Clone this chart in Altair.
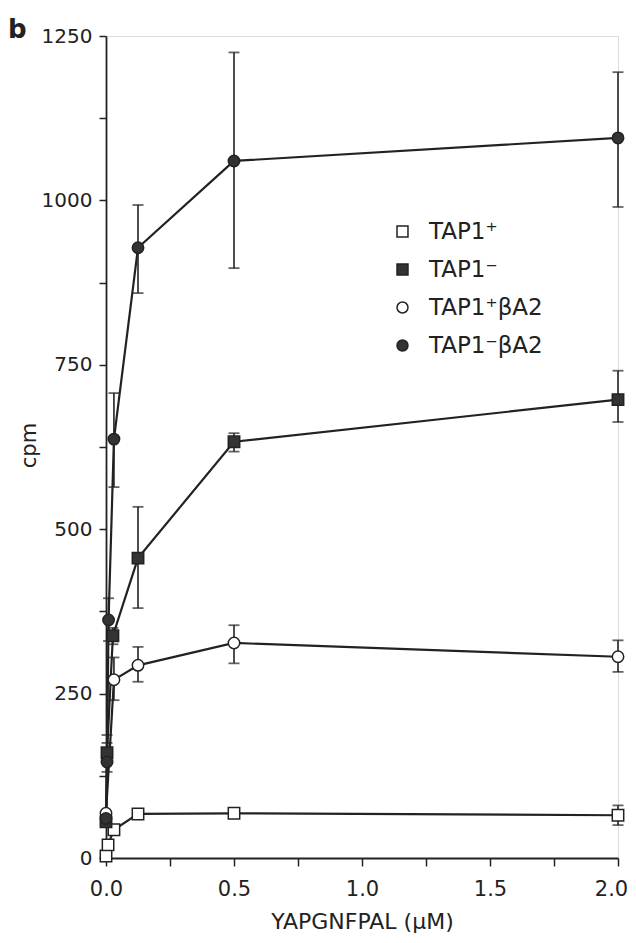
import altair as alt
import pandas as pd

series_names = ["TAP1⁺", "TAP1⁻", "TAP1⁺βA2", "TAP1⁻βA2"]

# TAP1+ (open square)
x_tap1p = [0, 0.008, 0.031, 0.125, 0.5, 2.0]
y_tap1p = [3, 20, 43, 67, 68, 65]
lo_tap1p = [None, None, None, None, None, 50]
hi_tap1p = [None, None, None, None, None, 80]

# TAP1- (filled square)
x_tap1m = [0, 0.004, 0.027, 0.125, 0.5, 2.0]
y_tap1m = [55, 160, 338, 456, 633, 697]
lo_tap1m = [None, 145, 325, 380, 618, 663]
hi_tap1m = [None, 175, 350, 534, 646, 741]

# TAP1+ bA2 (open circle)
x_tap1pb = [0, 0.031, 0.125, 0.5, 2.0]
y_tap1pb = [68, 271, 293, 327, 306]
lo_tap1pb = [None, 240, 268, 296, 283]
hi_tap1pb = [None, 305, 321, 354, 331]

# TAP1- bA2 (filled circle)
x_tap1mb = [0, 0.004, 0.01, 0.031, 0.125, 0.5, 2.0]
y_tap1mb = [60, 146, 362, 637, 928, 1060, 1095]
lo_tap1mb = [None, 131, 330, 564, 859, 897, 990]
hi_tap1mb = [None, 187, 395, 707, 993, 1225, 1195]

panel_label = ["b"]

rows = []
for name, xs, ys, los, his in [
    (series_names[0], x_tap1p, y_tap1p, lo_tap1p, hi_tap1p),
    (series_names[1], x_tap1m, y_tap1m, lo_tap1m, hi_tap1m),
    (series_names[2], x_tap1pb, y_tap1pb, lo_tap1pb, hi_tap1pb),
    (series_names[3], x_tap1mb, y_tap1mb, lo_tap1mb, hi_tap1mb),
]:
    for xv, yv, lv, hv in zip(xs, ys, los, his):
        rows.append({"series": name, "x": xv, "y": yv, "lo": lv, "hi": hv})
df = pd.DataFrame(rows)
err = df.dropna(subset=["lo", "hi"])

FONT = "DejaVu Sans"
INK = "#222222"

xscale = alt.Scale(domain=[0, 2.0], nice=False, zero=False)
yscale = alt.Scale(domain=[0, 1250], nice=False)

xaxis = alt.Axis(
    title="YAPGNFPAL (μM)",
    values=[0, 0.25, 0.5, 0.75, 1.0, 1.25, 1.5, 1.75, 2.0],
    labelExpr="datum.value % 0.5 == 0 ? format(datum.value, '.1f') : ''",
    labelFlush=False, labelOverlap=False,
    labelOffset={"condition": {"test": "datum.value == 2", "value": -7}, "value": 0},
    grid=False, tickSize=8, tickWidth=1.5, tickColor=INK,
    domainColor=INK, domainWidth=1.8,
    labelFont=FONT, labelFontSize=21, labelColor=INK, labelPadding=12,
    titleFont=FONT, titleFontSize=22, titleFontWeight="normal", titleColor=INK,
    titleY=70, titleBaseline="alphabetic",
)
yaxis = alt.Axis(
    title="cpm",
    values=[0, 125, 250, 375, 500, 625, 750, 875, 1000, 1125, 1250],
    labelExpr="datum.value % 250 == 0 ? format(datum.value, 'd') : ''",
    labelFlush=False, labelOverlap=False,
    grid=False, tickSize=7, tickWidth=1.5, tickColor=INK,
    domainColor=INK, domainWidth=1.8,
    labelFont=FONT, labelFontSize=20, labelColor=INK, labelPadding=7,
    titleFont=FONT, titleFontSize=21, titleFontWeight="normal", titleColor=INK,
    titleX=-77, titleY=409, titleBaseline="middle", titleAlign="center",
)

base = alt.Chart(df)

lines = base.mark_line(color=INK, strokeWidth=2.2).encode(
    x=alt.X("x:Q", scale=xscale, axis=xaxis),
    y=alt.Y("y:Q", scale=yscale, axis=yaxis),
    detail="series:N",
)

bars = alt.Chart(err).mark_rule(color=INK, strokeWidth=1.6).encode(
    x="x:Q", y="lo:Q", y2="hi:Q"
)
caps_lo = alt.Chart(err).mark_tick(orient="horizontal", color=INK, size=11, thickness=1.8).encode(
    x="x:Q", y="lo:Q"
)
caps_hi = alt.Chart(err).mark_tick(orient="horizontal", color=INK, size=11, thickness=1.8).encode(
    x="x:Q", y="hi:Q"
)

legend = alt.Legend(
    title=None, orient="none", legendX=285, legendY=184,
    labelFont=FONT, labelFontSize=23, labelColor=INK, labelOffset=15,
    symbolSize=120, symbolStrokeColor=INK, symbolStrokeWidth=1.5,
    rowPadding=14, padding=0,
)

points = base.mark_point(filled=True, strokeWidth=1.5, size=130, opacity=1).encode(
    x="x:Q",
    y="y:Q",
    shape=alt.Shape("series:N", scale=alt.Scale(domain=series_names,
                    range=["square", "square", "circle", "circle"]), legend=legend),
    fill=alt.Fill("series:N", scale=alt.Scale(domain=series_names,
                  range=["white", "#333333", "white", "#333333"]), legend=legend),
    stroke=alt.Stroke("series:N", scale=alt.Scale(domain=series_names,
                      range=[INK, INK, INK, INK]), legend=legend),
)

label_b = alt.Chart(pd.DataFrame({"t": panel_label})).mark_text(
    font=FONT, fontSize=26, fontWeight="bold", color=INK,
    align="left", baseline="alphabetic",
).encode(text="t:N", x=alt.value(-98), y=alt.value(2))

chart = alt.layer(lines, bars, caps_lo, caps_hi, points, label_b).properties(
    width=512, height=822,
    autosize=alt.AutoSizeParams(type="none"),
    padding={"left": 98, "top": 28, "right": 10, "bottom": 77},
).configure_view(stroke=None).configure(background="white")

chart.save("out.html", embed_options={"renderer": "svg", "actions": False})
